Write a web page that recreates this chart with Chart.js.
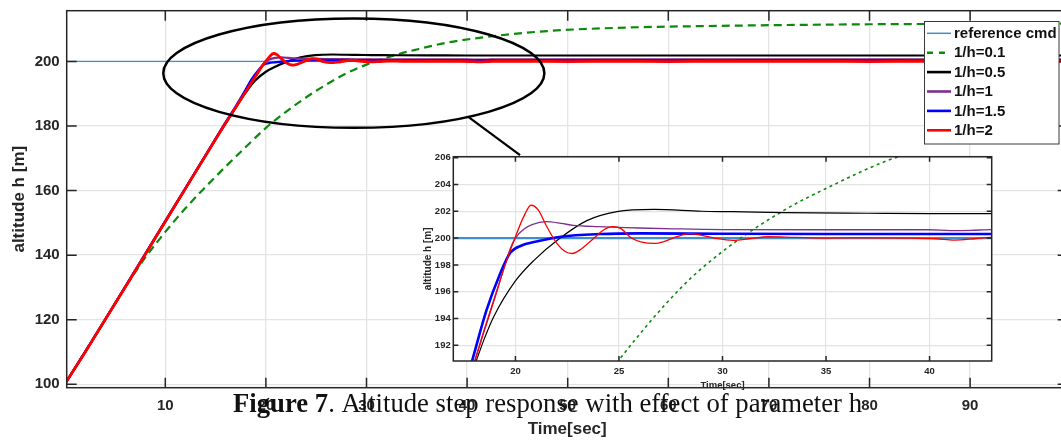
<!DOCTYPE html>
<html>
<head>
<meta charset="utf-8">
<script src="https://cdn.jsdelivr.net/npm/chart.js@4.4.0/dist/chart.umd.min.js"></script>
<style>
  html, body { margin: 0; padding: 0; background: #fff; overflow: hidden; }
  #wrap { position: relative; width: 1061px; height: 441px; overflow: hidden; }
  #main { position: absolute; left: 0; top: 0; }
  #zoom { position: absolute; left: 415px; top: 150px; }
</style>
</head>
<body>
<div id="wrap">
  <canvas id="main" width="1070" height="441"></canvas>
  <canvas id="zoom" width="580" height="245"></canvas>
</div>
<script>
// Dados (altitude h [m] x tempo [s])
const seriesLabels = ['reference cmd', '1/h=0.1', '1/h=0.5', '1/h=1', '1/h=1.5', '1/h=2'];

const tRef = [0, 100];
const hRef = [200, 200];

const tH01 = [0, 2, 4, 6, 7, 8, 9, 10, 12, 15, 18, 20, 22, 25, 28, 30, 33, 35, 38, 42, 48, 55, 65, 80, 100];
const hH01 = [100, 110, 120, 130, 134.7, 139.2, 143.3, 147.2, 154.5, 164.3, 173.5, 179.4, 184.4, 190.9, 196.3, 199.0, 202.1, 203.7, 205.8, 207.6, 209.4, 210.4, 211.0, 211.5, 211.7];

const tH05 = [0, 2, 4, 6, 8, 10, 12, 14, 16, 17, 17.5, 18.1, 18.5, 18.94, 20, 20.87, 22.16, 23.45, 24.9, 26.7, 29, 30.5, 33, 37, 40, 43, 50, 60, 70, 80, 90, 100];
const hH05 = [100, 109.8, 119.9, 130.0, 140.2, 150.4, 160.6, 170.8, 180.9, 185.7, 188.2, 190.8, 192.5, 194.1, 196.8, 198.3, 200.0, 201.3, 201.97, 202.14, 202.0, 201.97, 201.9, 201.85, 201.82, 201.82, 201.82, 201.83, 201.83, 201.83, 201.83, 201.83];

const tH1 = [0, 2, 4, 6, 8, 10, 12, 14, 16, 17, 18, 18.5, 19, 19.5, 19.75, 20, 20.4, 20.8, 21.5, 22.2, 22.8, 24, 25, 26, 28, 29, 30, 35, 40, 41, 42, 43, 50, 60, 70, 80, 90, 100];
const hH1 = [100, 109.8, 119.9, 130.0, 140.2, 150.4, 160.6, 170.8, 180.9, 185.8, 190.7, 193.2, 195.6, 198.0, 199.2, 200.0, 200.65, 201.0, 201.22, 201.1, 200.95, 200.85, 200.8, 200.75, 200.68, 200.65, 200.63, 200.62, 200.62, 200.56, 200.58, 200.63, 200.62, 200.62, 200.6, 200.6, 200.6, 200.6];

const tH15 = [0, 2, 4, 6, 8, 10, 12, 14, 16, 17, 17.9, 18.6, 19.25, 19.75, 20.3, 20.9, 22.2, 24.1, 26, 30, 35, 40, 43, 50, 60, 70, 80, 90, 100];
const hH15 = [100, 109.9, 120.0, 130.2, 140.4, 150.6, 160.8, 171.0, 181.2, 186.1, 190.8, 194.6, 197.3, 198.9, 199.45, 199.7, 200.1, 200.3, 200.35, 200.32, 200.3, 200.3, 200.3, 200.3, 200.3, 200.3, 200.3, 200.3, 200.3];

const tH2 = [0, 2, 4, 6, 8, 10, 12, 14, 16, 17, 18, 18.5, 19, 19.5, 20, 20.4, 20.75, 21.1, 21.5, 22, 22.4, 22.75, 23.1, 23.8, 24.2, 24.7, 25.1, 25.6, 26.1, 26.7, 27.2, 27.8, 28.4, 29.0, 29.6, 30.5, 31.3, 32.2, 33.5, 35, 37, 39, 40.3, 41.2, 42.2, 43, 46, 50, 55, 60, 65, 70, 75, 80, 85, 90, 95, 100];
const hH2 = [100, 109.8, 119.9, 130.0, 140.2, 150.4, 160.6, 170.8, 180.9, 185.7, 190.6, 193.1, 195.5, 198.0, 200.1, 201.6, 202.45, 202.1, 200.9, 199.6, 199.0, 198.85, 199.1, 200.0, 200.55, 200.85, 200.7, 200.0, 199.7, 199.6, 199.75, 200.1, 200.33, 200.2, 200.0, 199.83, 199.95, 200.1, 200.05, 200.0, 200.02, 200.0, 199.95, 199.85, 199.95, 200.05, 200.05, 199.95, 200.05, 199.95, 200.05, 200.0, 200.05, 199.95, 200.05, 200.0, 200.0, 200.0];

// Marcacao (elipse e linha de ligacao) em coordenadas de dados
const ellipseCenter = [28.74, 196.35];
const ellipseRadius = [18.94, 16.93];
const connectorFrom = [40.12, 182.85];
const connectorTo = [45.26, 171.0];

const captionBold = 'Figure 7';
const captionText = '. Altitude step response with effect of parameter h';

Chart.defaults.font.family = '"Liberation Sans", Arial, sans-serif';
Chart.defaults.color = '#262626';

const pts = (t, h) => t.map((v, i) => ({ x: v, y: h[i] }));
const seriesT = [tRef, tH01, tH05, tH1, tH15, tH2];
const seriesH = [hRef, hH01, hH05, hH1, hH15, hH2];
const colors = ['#3f8fcf', '#0b8a0b', '#000000', '#7e2f8e', '#0000ff', '#ff0000'];

function buildDatasets(widths, dashes) {
  return seriesLabels.map((label, i) => ({
    label,
    data: pts(seriesT[i], seriesH[i]),
    borderColor: colors[i],
    borderWidth: widths[i],
    borderDash: dashes[i] || [],
    pointRadius: 0,
    fill: false,
    cubicInterpolationMode: 'monotone',
    order: 6 - i,
    clip: 0
  }));
}

// sem folga extra das escalas: a area do grafico fica onde a gente quer
function fixWidth(w) {
  return s => { s.width = w; s.paddingTop = 0; s.paddingBottom = 0; };
}
function fixHeight(h) {
  return s => { s.height = h; s.paddingLeft = 0; s.paddingRight = 0; };
}

// Moldura com marcas internas (estilo MATLAB)
const frameTicks = {
  id: 'frameTicks',
  beforeDraw(chart, args, opts) {
    if (!opts.fill) return;
    const { ctx, chartArea: a } = chart;
    ctx.save();
    ctx.fillStyle = opts.fill;
    ctx.fillRect(a.left, a.top, a.right - a.left, a.bottom - a.top);
    ctx.restore();
  },
  afterDatasetsDraw(chart, args, opts) {
    const { ctx, chartArea: a, scales } = chart;
    const len = opts.length;
    ctx.save();
    ctx.strokeStyle = opts.color;
    ctx.lineWidth = opts.width;
    ctx.beginPath();
    scales.x.ticks.forEach(t => {
      const px = scales.x.getPixelForValue(t.value);
      ctx.moveTo(px, a.bottom); ctx.lineTo(px, a.bottom - len);
      ctx.moveTo(px, a.top); ctx.lineTo(px, a.top + len);
    });
    scales.y.ticks.forEach(t => {
      const py = scales.y.getPixelForValue(t.value);
      ctx.moveTo(a.left, py); ctx.lineTo(a.left + len, py);
      ctx.moveTo(a.right, py); ctx.lineTo(a.right - len, py);
    });
    ctx.stroke();
    ctx.strokeRect(a.left, a.top, a.right - a.left, a.bottom - a.top);
    ctx.restore();
  }
};

// Legenda, elipse, ligacao e legenda da figura
const extras = {
  id: 'extras',
  afterDraw(chart) {
    const { ctx, scales: { x, y } } = chart;
    ctx.save();

    // legenda
    const box = { left: 924.5, top: 21.5, right: 1059, bottom: 144 };
    ctx.fillStyle = '#fff';
    ctx.fillRect(box.left, box.top, box.right - box.left, box.bottom - box.top);
    ctx.strokeStyle = '#3a3a3a';
    ctx.lineWidth = 1;
    ctx.strokeRect(box.left, box.top, box.right - box.left, box.bottom - box.top);
    ctx.font = 'bold 15px "Liberation Sans", Arial, sans-serif';
    ctx.textBaseline = 'middle';
    chart.data.datasets.forEach((ds, i) => {
      const yy = 33.3 + i * 19.4;
      ctx.beginPath();
      ctx.strokeStyle = ds.borderColor;
      ctx.lineWidth = i === 0 ? 1.5 : (i === 1 ? 2.4 : 2.6);
      ctx.setLineDash(i === 1 ? [6, 6] : []);
      ctx.moveTo(927, yy); ctx.lineTo(951, yy);
      ctx.stroke();
      ctx.setLineDash([]);
      ctx.fillStyle = '#111';
      ctx.fillText(ds.label, 954, yy + 0.5);
    });

    // elipse de destaque
    const cx = x.getPixelForValue(ellipseCenter[0]);
    const cy = y.getPixelForValue(ellipseCenter[1]);
    const rx = x.getPixelForValue(ellipseCenter[0] + ellipseRadius[0]) - cx;
    const ry = cy - y.getPixelForValue(ellipseCenter[1] + ellipseRadius[1]);
    ctx.beginPath();
    ctx.strokeStyle = '#000';
    ctx.lineWidth = 2.5;
    ctx.ellipse(cx, cy, rx, ry, 0, 0, Math.PI * 2);
    ctx.stroke();

    ctx.beginPath();
    ctx.lineWidth = 2.2;
    ctx.moveTo(x.getPixelForValue(connectorFrom[0]), y.getPixelForValue(connectorFrom[1]));
    ctx.lineTo(x.getPixelForValue(connectorTo[0]), y.getPixelForValue(connectorTo[1]));
    ctx.stroke();

    // legenda da figura
    ctx.textBaseline = 'alphabetic';
    ctx.fillStyle = '#111';
    ctx.font = 'bold 27px "Liberation Serif", "Times New Roman", serif';
    const w1 = ctx.measureText(captionBold).width;
    ctx.font = '27px "Liberation Serif", "Times New Roman", serif';
    const w2 = ctx.measureText(captionText).width;
    const sx = (862 - 233) / (w1 + w2);
    ctx.translate(233, 411.5);
    ctx.scale(sx, 1);
    ctx.font = 'bold 27px "Liberation Serif", "Times New Roman", serif';
    ctx.fillText(captionBold, 0, 0);
    ctx.font = '27px "Liberation Serif", "Times New Roman", serif';
    ctx.fillText(captionText, w1, 0);
    ctx.restore();
  }
};

// Grafico principal
new Chart(document.getElementById('main'), {
  type: 'line',
  data: {
    datasets: buildDatasets([1.3, 2.2, 2.2, 2.2, 2.2, 2.8], [null, [8, 5]])
  },
  options: {
    responsive: false,
    animation: false,
    devicePixelRatio: 1,
    layout: { padding: { left: 0, top: 10.7, right: 2.3, bottom: 0 } },
    plugins: {
      legend: { display: false },
      tooltip: { enabled: false },
      frameTicks: { color: '#262626', width: 1.5, length: 10 }
    },
    scales: {
      x: {
        type: 'linear', min: 0.2, max: 99.7,
        ticks: { stepSize: 10, includeBounds: false, maxRotation: 0, padding: 9, color: '#262626', font: { size: 15, weight: 'bold' } },
        grid: { color: '#e4e4e4', lineWidth: 1.3, drawTicks: false },
        border: { display: false },
        title: { display: true, text: 'Time[sec]', color: '#262626', font: { size: 17, weight: 'bold' }, padding: { top: 0, bottom: 1 } },
        afterFit: fixHeight(53.3)
      },
      y: {
        type: 'linear', min: 98.95, max: 215.7,
        ticks: { stepSize: 20, includeBounds: false, padding: 7, color: '#262626', font: { size: 15, weight: 'bold' } },
        grid: { color: '#e4e4e4', lineWidth: 1.3, drawTicks: false },
        border: { display: false },
        title: { display: true, text: 'altitude h [m]', color: '#262626', font: { size: 17, weight: 'bold' }, padding: { top: 9, bottom: 0 } },
        afterFit: fixWidth(66.7)
      }
    }
  },
  plugins: [frameTicks, extras]
});

// Grafico ampliado (zoom)
new Chart(document.getElementById('zoom'), {
  type: 'line',
  data: {
    datasets: buildDatasets([2.2, 1.6, 1.2, 1.3, 2.6, 1.3], [null, [3, 3.5]])
  },
  options: {
    responsive: false,
    animation: false,
    devicePixelRatio: 1,
    layout: { padding: { left: 0, top: 6.7, right: 3.3, bottom: 0 } },
    plugins: {
      legend: { display: false },
      tooltip: { enabled: false },
      frameTicks: { color: '#262626', width: 1.5, length: 5, fill: '#fff' }
    },
    scales: {
      x: {
        type: 'linear', min: 17, max: 43,
        ticks: { stepSize: 5, includeBounds: false, maxRotation: 0, padding: 5, color: '#262626', font: { size: 9.5, weight: 'bold' } },
        grid: { color: '#e3e3e3', lineWidth: 1.2, drawTicks: false },
        border: { display: false },
        title: { display: true, text: 'Time[sec]', color: '#262626', font: { size: 9.5, weight: 'bold' }, padding: { top: 0, bottom: 3.6 } },
        afterFit: fixHeight(34)
      },
      y: {
        type: 'linear', min: 190.83, max: 206.07,
        ticks: { stepSize: 2, includeBounds: false, padding: 2.6, color: '#262626', font: { size: 9.5, weight: 'bold' } },
        grid: { color: '#e3e3e3', lineWidth: 1.2, drawTicks: false },
        border: { display: false },
        title: { display: true, text: 'altitude h [m]', color: '#262626', font: { size: 10, weight: 'bold' }, padding: { top: 7.3, bottom: 0 } },
        afterFit: fixWidth(38.3)
      }
    }
  },
  plugins: [frameTicks]
});
</script>
</body>
</html>
